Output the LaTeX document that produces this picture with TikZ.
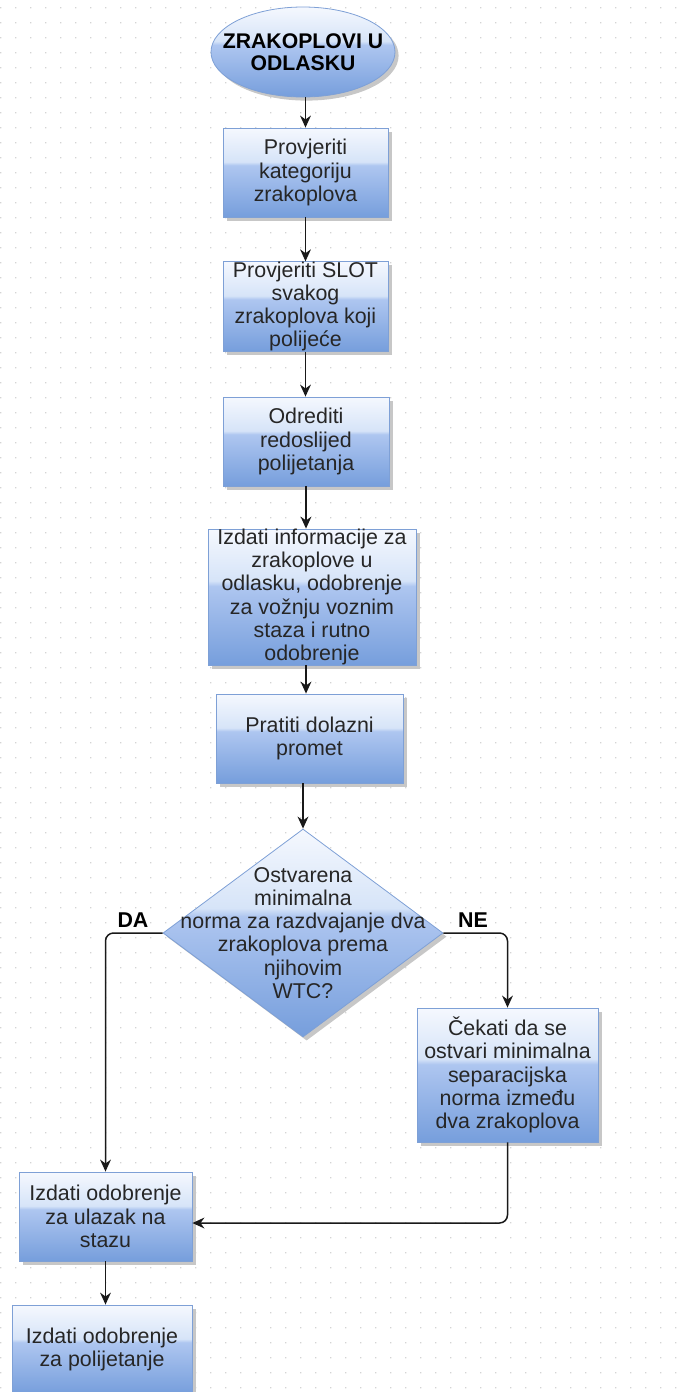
\documentclass[tikz,border=0pt]{standalone}
\usepackage{fontspec}
\setmainfont{Liberation Sans}
\usetikzlibrary{arrows.meta,shapes.geometric,shadows}
\definecolor{boxTop}{RGB}{245,248,254}
\definecolor{boxHigh}{RGB}{214,228,248}
\definecolor{boxMid}{RGB}{174,198,240}
\definecolor{boxBottom}{RGB}{118,158,220}
\definecolor{boxLine}{RGB}{126,160,214}
\definecolor{gridDot}{RGB}{212,212,212}
\pgfdeclareverticalshading{glossBlue}{100bp}{color(0bp)=(boxBottom); color(25bp)=(boxBottom); color(54bp)=(boxMid); color(56bp)=(boxHigh); color(75bp)=(boxTop); color(100bp)=(boxTop)}
\newcommand{\pxUnit}{0.5pt}
\newcommand{\flowFont}{\fontsize{10.7}{11.6}\selectfont}
\newcommand{\gridStep}{15}
\tikzset{
  flowshadow/.style={drop shadow={shadow xshift=1.8pt, shadow yshift=-1.8pt, fill=black!22, opacity=1}},
  process/.style={rectangle, draw=boxLine, line width=0.4pt, shading=glossBlue, flowshadow,
    inner sep=0pt, align=center, font=\flowFont, text=black!85},
  terminal/.style={ellipse, draw=boxLine, line width=0.4pt, shading=glossBlue, flowshadow,
    minimum width=92pt, minimum height=45pt, inner sep=0pt},
  terminaltext/.style={align=center, inner sep=0pt, font=\bfseries\fontsize{10.6}{11}\selectfont},
  decision/.style={diamond, draw=boxLine, line width=0.4pt, shading=glossBlue, flowshadow,
    minimum width=140pt, minimum height=104pt, inner sep=0pt},
  decisiontext/.style={align=center, inner sep=0pt, font=\flowFont, text=black!85},
  answer/.style={inner sep=0pt, font=\bfseries\flowFont},
  flowline/.style={-{Stealth[length=6pt,width=5.4pt]}, line width=0.75pt, black!90}
}
\begin{document}
\begin{tikzpicture}[x=\pxUnit, y=-\pxUnit]
\useasboundingbox (0,0) rectangle (690,1392);
% dot grid of the editor
\fill[gridDot] \foreach \i in {0,...,46} {\foreach \j in {0,...,92} {(\i*\gridStep,\j*\gridStep+7) rectangle ++(1.4,1.4)}};

\node[terminal] (start) at (303,52) {};
\node[terminaltext] at (start) {ZRAKOPLOVI U\\ODLASKU};
\node[process, minimum width=82.5pt, minimum height=44.5pt] (kategorija) at (305.5,172.5) {Provjeriti\\kategoriju\\zrakoplova};
\node[process, minimum width=82.5pt, minimum height=44.5pt] (slot) at (305.5,306.5) {Provjeriti SLOT\\svakog\\zrakoplova koji\\polijeće};
\node[process, minimum width=83pt, minimum height=44.5pt] (redoslijed) at (306,441.5) {Odrediti\\redoslijed\\polijetanja};
\node[process, minimum width=104pt, minimum height=68pt] (informacije) at (312,597) {Izdati informacije za\\zrakoplove u\\odlasku, odobrenje\\za vožnju voznim\\staza i rutno\\odobrenje};
\node[process, minimum width=93.5pt, minimum height=44.5pt] (promet) at (309.5,738.5) {Pratiti dolazni\\promet};
\node[decision] (wtc) at (303,933) {};
\node[decisiontext] at (wtc) {Ostvarena\\minimalna\\norma za razdvajanje dva\\zrakoplova prema\\njihovim\\WTC?};
\node[process, minimum width=90.5pt, minimum height=67pt] (cekanje) at (507.5,1075) {Čekati da se\\ostvari minimalna\\separacijska\\norma između\\dva zrakoplova};
\node[process, minimum width=86.5pt, minimum height=44.5pt] (ulazak) at (105.5,1216.5) {Izdati odobrenje\\za ulazak na\\stazu};
\node[process, minimum width=90pt, minimum height=44.5pt] (polijetanje) at (102,1349.5) {Izdati odobrenje\\za polijetanje};
\node[answer] (da) at (133,920) {DA};
\node[answer] (ne) at (473,920) {NE};

% main column
\draw[flowline] (start.south -| kategorija.north) -- (kategorija.north);
\draw[flowline] (kategorija.south) -- (slot.north);
\draw[flowline] (slot.south) -- (slot.south |- redoslijed.north);
\draw[flowline] (redoslijed.south) -- (redoslijed.south |- informacije.north);
\draw[flowline] (informacije.south -| redoslijed.south) -- (promet.north -| redoslijed.south);
\draw[flowline] (promet.south -| wtc.north) -- (wtc.north);
% branches
\draw[flowline, rounded corners=4pt] (wtc.west) -| (ulazak.north);
\draw[flowline, rounded corners=4pt] (wtc.east) -| (cekanje.north);
\draw[flowline, rounded corners=4pt] (cekanje.south) |- ([yshift=-3.25pt]ulazak.east);
\draw[flowline] (ulazak.south) -- (ulazak.south |- polijetanje.north);
\end{tikzpicture}
\end{document}
